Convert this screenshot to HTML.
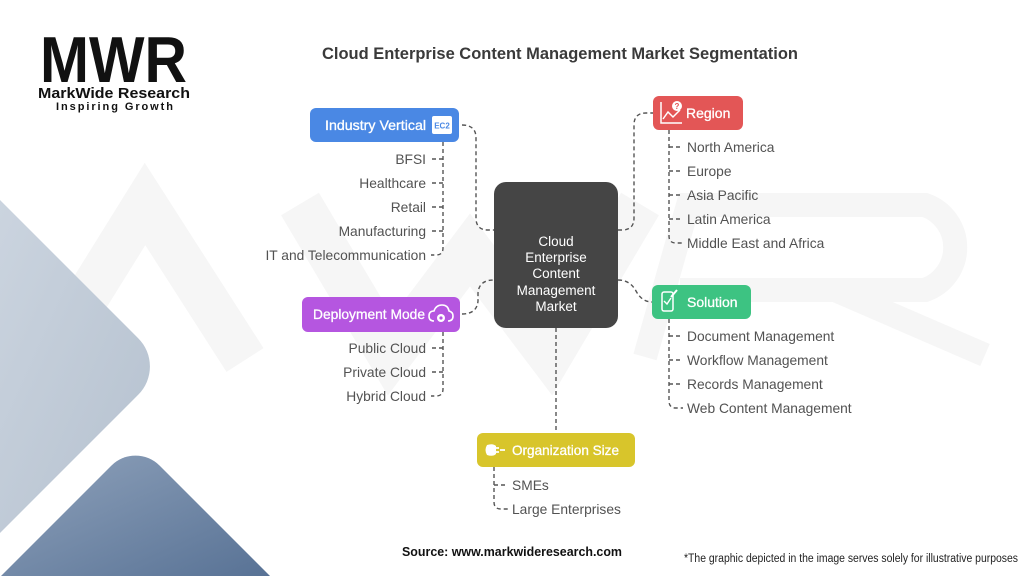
<!DOCTYPE html>
<html>
<head>
<meta charset="utf-8">
<style>
  html,body{margin:0;padding:0;background:#fff;width:1024px;height:576px;overflow:hidden;}
  svg{display:block;overflow:hidden;}
  text{font-family:"Liberation Sans", Arial, sans-serif;}
</style>
</head>
<body>
<svg width="1024" height="576" viewBox="0 0 1024 576" xmlns="http://www.w3.org/2000/svg">
  <defs>
    <linearGradient id="gLight" x1="0" y1="0" x2="1" y2="1">
      <stop offset="0" stop-color="#cbd4df"/>
      <stop offset="1" stop-color="#b5c1cf"/>
    </linearGradient>
    <linearGradient id="gDark" x1="0" y1="0" x2="1" y2="1">
      <stop offset="0" stop-color="#8fa2bb"/>
      <stop offset="1" stop-color="#587295"/>
    </linearGradient>
  </defs>

  <!-- watermark (very faint) -->
  <g fill="none" stroke="#f6f6f6" stroke-width="44" stroke-linejoin="miter">
    <polyline points="48,360 145,204 245,360"/>
    <polyline points="300,204 390,356 470,250 550,356 640,204"/>
  </g>
  <g fill="none" stroke="#f6f6f6" stroke-width="24">
    <path d="M645,357 L688,205 L925,205 A45 45 0 0 1 925,290 L680,290"/>
    <path d="M835,290 L985,355"/>
  </g>

  <!-- background shapes -->
  <path d="M0,200 L138.2,338.2 A40,40 0 0 1 138.2,394.8 L0,533 Z" fill="url(#gLight)"/>
  <path d="M1,576 L111.5,465.5 A34,34 0 0 1 159.5,465.5 L270,576 Z" fill="url(#gDark)"/>

  <!-- logo -->
  <text x="40" y="82" font-size="65" font-weight="bold" fill="#111" textLength="147" lengthAdjust="spacingAndGlyphs">MWR</text>
  <text x="38" y="98" font-size="15" font-weight="bold" fill="#111" textLength="152" lengthAdjust="spacingAndGlyphs">MarkWide Research</text>
  <text x="56" y="110" font-size="11" font-weight="bold" fill="#111" textLength="117" lengthAdjust="spacing">Inspiring Growth</text>

  <!-- title -->
  <text x="322" y="59" font-size="17" font-weight="bold" fill="#3a3a3a" textLength="476" lengthAdjust="spacingAndGlyphs">Cloud Enterprise Content Management Market Segmentation</text>

  <!-- connectors -->
  <g fill="none" stroke="#555" stroke-width="1.4" stroke-dasharray="4,3">
    <path d="M462,125 Q476,125 476,138 L476,218 Q476,230 488,230 L494,230"/>
    <path d="M618,230 L622,230 Q634,230 634,218 L634,125 Q634,113 646,113 L653,113"/>
    <path d="M462,314 Q477,314 478,301 L478,293 Q479,280 494,280"/>
    <path d="M618,280 Q630,280 636,291 Q642,302 652,302"/>
    <path d="M556,328 L556,433"/>

    <path d="M443,142 L443,248 Q443,255 436,255 L431,255"/>
    <path d="M432,159 L443,159 M432,183 L443,183 M432,207 L443,207 M432,231 L443,231"/>
    <path d="M443,332 L443,389 Q443,396 436,396 L431,396"/>
    <path d="M432,348 L443,348 M432,372 L443,372"/>
    <path d="M669,130 L669,236 Q669,243 676,243 L683,243"/>
    <path d="M669,147 L682,147 M669,171 L682,171 M669,195 L682,195 M669,219 L682,219"/>
    <path d="M669,319 L669,401 Q669,408 676,408 L683,408"/>
    <path d="M669,336 L682,336 M669,360 L682,360 M669,384 L682,384"/>
    <path d="M494,467 L494,502 Q494,509 501,509 L508,509"/>
    <path d="M494,485 L507,485"/>
  </g>

  <!-- center box -->
  <rect x="494" y="182" width="124" height="146" rx="12" fill="#454545"/>
  <g fill="#fff" font-size="13.5" text-anchor="middle">
    <text x="556" y="246">Cloud</text>
    <text x="556" y="262">Enterprise</text>
    <text x="556" y="278">Content</text>
    <text x="556" y="295">Management</text>
    <text x="556" y="311">Market</text>
  </g>

  <!-- Industry Vertical -->
  <rect x="310" y="108" width="149" height="34" rx="6" fill="#4a88e4"/>
  <text x="325" y="130" font-size="14" fill="#fff" stroke="#fff" stroke-width="0.3" textLength="101" lengthAdjust="spacingAndGlyphs">Industry Vertical</text>
  <rect x="432" y="116" width="20" height="18" rx="2" fill="#fff"/>
  <text x="442" y="128.5" font-size="8" font-weight="bold" fill="#4a88e4" text-anchor="middle">EC2</text>

  <g fill="#525252" font-size="13.8" text-anchor="end">
    <text x="426" y="164">BFSI</text>
    <text x="426" y="188">Healthcare</text>
    <text x="426" y="212">Retail</text>
    <text x="426" y="236">Manufacturing</text>
    <text x="426" y="260">IT and Telecommunication</text>
    <text x="426" y="353">Public Cloud</text>
    <text x="426" y="377">Private Cloud</text>
    <text x="426" y="401">Hybrid Cloud</text>
  </g>

  <!-- Region -->
  <rect x="653" y="96" width="90" height="34" rx="6" fill="#e35656"/>
  <g fill="none" stroke="#fff" stroke-width="1.5">
    <polyline points="661,102 661,123 682,123"/>
    <polyline points="663,119 668,112 673,117 680,110"/>
  </g>
  <circle cx="677" cy="106" r="5" fill="#fff"/>
  <text x="677" y="109" font-size="8" font-weight="bold" fill="#e35656" text-anchor="middle">?</text>
  <text x="686" y="118" font-size="14" fill="#fff" stroke="#fff" stroke-width="0.3">Region</text>

  <g fill="#525252" font-size="13.8">
    <text x="687" y="152">North America</text>
    <text x="687" y="176">Europe</text>
    <text x="687" y="200">Asia Pacific</text>
    <text x="687" y="224">Latin America</text>
    <text x="687" y="248">Middle East and Africa</text>
    <text x="687" y="341">Document Management</text>
    <text x="687" y="365">Workflow Management</text>
    <text x="687" y="389">Records Management</text>
    <text x="687" y="413">Web Content Management</text>
    <text x="512" y="490">SMEs</text>
    <text x="512" y="514">Large Enterprises</text>
  </g>

  <!-- Deployment Mode -->
  <rect x="302" y="297" width="158" height="35" rx="6" fill="#b556e0"/>
  <text x="313" y="319" font-size="14" fill="#fff" stroke="#fff" stroke-width="0.3" textLength="112" lengthAdjust="spacingAndGlyphs">Deployment Mode</text>
  <path d="M434,321 Q429,321 429,316 Q429,311 434,311 Q436,305 442,305 Q448,305 449,311 Q453,312 453,316 Q453,321 448,321" fill="none" stroke="#fff" stroke-width="1.6"/>
  <circle cx="441" cy="318" r="4" fill="#fff"/>
  <circle cx="441" cy="318" r="1.6" fill="#b556e0"/>

  <!-- Solution -->
  <rect x="652" y="285" width="99" height="34" rx="6" fill="#3dc382"/>
  <rect x="662" y="292" width="11" height="19" rx="2" fill="none" stroke="#fff" stroke-width="1.5"/>
  <polyline points="664,301 667,304 671,298" fill="none" stroke="#fff" stroke-width="1.4"/>
  <path d="M671,297 L677,290" stroke="#fff" stroke-width="2"/>
  <text x="687" y="307" font-size="14" fill="#fff" stroke="#fff" stroke-width="0.3">Solution</text>

  <!-- Organization Size -->
  <rect x="477" y="433" width="158" height="34" rx="6" fill="#d8c52b"/>
  <path d="M487,445 Q493,443 496,446 L496,454 Q493,457 487,455 Q484,450 487,445 Z" fill="#fff"/>
  <path d="M496,448 L499,448 M496,452 L499,452 M500,450 L505,450" stroke="#fff" stroke-width="1.8"/>
  <text x="512" y="455" font-size="14" fill="#fff" stroke="#fff" stroke-width="0.3" textLength="107" lengthAdjust="spacingAndGlyphs">Organization Size</text>

  <!-- footer -->
  <text x="402" y="556" font-size="13" font-weight="bold" fill="#111" textLength="220" lengthAdjust="spacingAndGlyphs">Source: www.markwideresearch.com</text>
  <text x="684" y="562" font-size="11.5" fill="#222" textLength="334" lengthAdjust="spacingAndGlyphs">*The graphic depicted in the image serves solely for illustrative purposes</text>
</svg>
</body>
</html>
